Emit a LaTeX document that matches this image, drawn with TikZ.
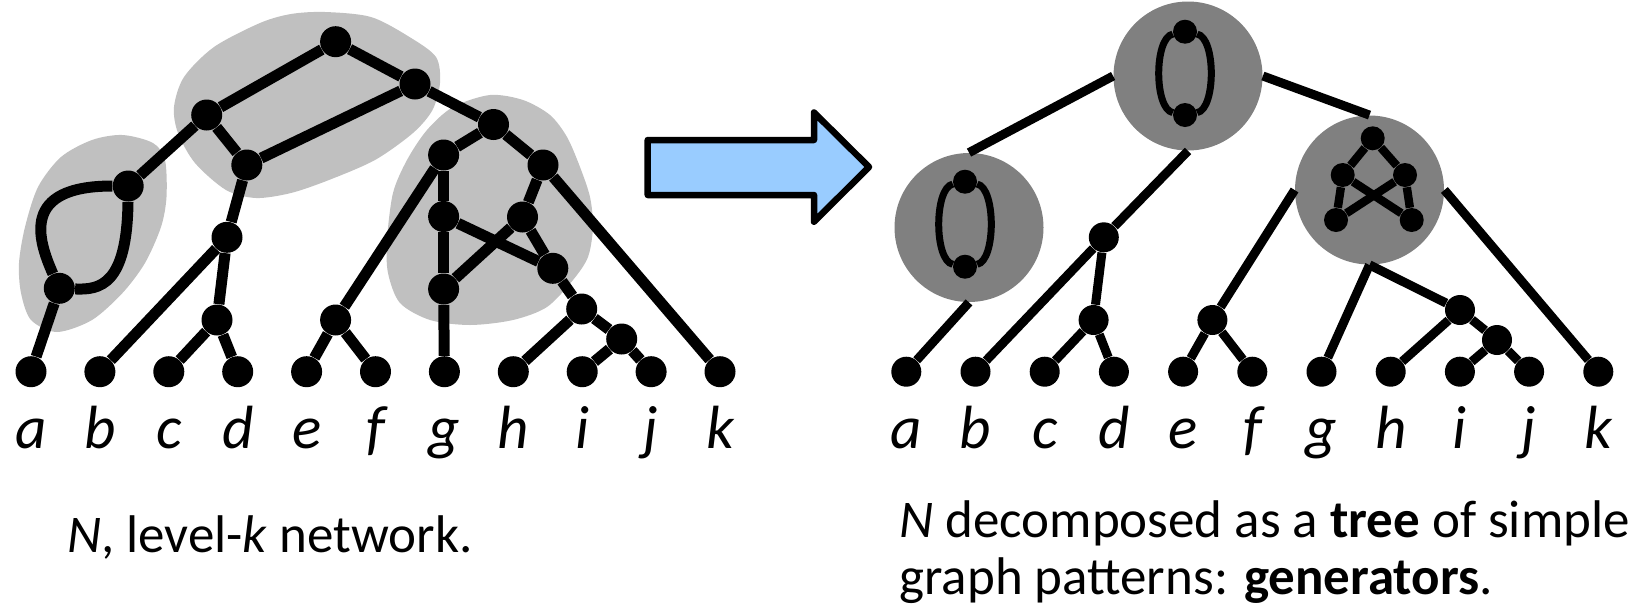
\documentclass[tikz,border=0pt]{standalone}
\usepackage{fontspec}
\setmainfont{Carlito}
\definecolor{blobgray}{HTML}{C0C0C0}
\definecolor{gengray}{HTML}{808080}
\definecolor{arrowblue}{HTML}{99CCFF}
\begin{document}
\begin{tikzpicture}[x=0.5pt,y=-0.5pt]
    \tikzset{vl/.style={circle,fill=black,inner sep=0pt,minimum size=15.5pt},
        vr/.style={circle,fill=black,inner sep=0pt,minimum size=15pt},
        vg/.style={circle,fill=black,inner sep=0pt,minimum size=12pt},
        gen/.style={circle,fill=gengray,inner sep=0pt,minimum size=74.5pt},
        el/.style={line width=5.5pt},
        er/.style={line width=4.5pt},
        eg/.style={line width=4.2pt},
        eo/.style={line width=3.5pt},
        lab/.style={anchor=base,inner sep=0pt,font=\fontsize{30.5pt}{36pt}\selectfont\itshape},
        captxt/.style={anchor=base west,inner sep=0pt,align=left,font=\fontsize{26.5pt}{28.5pt}\selectfont}}
    \useasboundingbox(0,0)rectangle(1639,606);
    % grey parts of N
    \fill[blobgray]plot[smooth cycle]coordinates{(122.5,135)(153,143)(165,160)(166.5,197)(161,227)(145,263)(122.5,293)(92,320)(57,332)(31,320)(21,293)(19,263)(25,227)(38,187)(61,157)(92,140)};
    \fill[blobgray]plot[smooth cycle]coordinates{(325,12)(371,17)(409.5,37)(436,57)(440,83)(432.5,110)(413,133)(375,160)(329,180)(291,193)(256,198)(226,190)(195,163)(178,133)(174,107)(184,77)(214,47)(260,23)(291,14)};
    \fill[blobgray]plot[smooth cycle]coordinates{(490,95)(523,100)(550,115)(567,137)(580,167)(590,197)(593,227)(588,257)(573,280)(547,307)(513,320)(470,325)(430,320)(400,303)(388,273)(387,240)(393,193)(407,160)(427,130)(453,107)};
    \path(1188,76)node[gen](Ga){}(969,227.5)node[gen](Gb){}(1369.5,190)node[gen](Gc){};
    % network N
    \path(335.6,41.7)node[vl](rt){}(415,84)node[vl](r2){}(206.7,115)node[vl](l1){}(246.8,165)node[vl](l2){};
    \path(128.2,186)node[vl](lct){}(59.3,288.3)node[vl](lcb){}(227,237.3)node[vl](lm){}(217,320)node[vl](cd){}(335.6,320)node[vl](ef){};
    \path(493.5,124.5)node[vl](rct){}(443.6,155)node[vl](rcl){}(543,165)node[vl](rcr){}(443.6,216.5)node[vl](gm){}(522.5,217)node[vl](mr){};
    \path(552.8,268.3)node[vl](lr){}(443.6,289)node[vl](gb){}(581.7,309)node[vl](hij){}(621.7,339)node[vl](ij){};
    \foreach \n [count=\i from 0] in {a,...,k}
    \path(31+68.9*\i,371.7)node[vl](\n){}(31+68.9*\i,448.3)node[lab](l\n){\n};
    % tree of generators
    \path(1185,31.7)node[vg](ga1){}(1185,115)node[vg](ga2){}(965,181.7)node[vg](gb1){}(965,266.7)node[vg](gb2){};
    \path(1372.7,138.3)node[vg](gc1){}(1342.7,175)node[vg](gc2){}(1405,175)node[vg](gc3){}(1336,220)node[vg](gc4){}(1411.7,220)node[vg](gc5){};
    \path(1103.8,237.3)node[vr](B){}(1093.6,320)node[vr](CD){}(1212.4,320)node[vr](EF){}(1460,310)node[vr](HIJ){}(1497,340)node[vr](IJ){};
    \foreach \n [count=\i from 0] in {a,...,k}
    \path(906.3+69.2*\i,371.7)node[vr](\n2){}(906.3+69.2*\i,448.3)node[lab](l\n2){\n};
    \foreach \x/\y in {rt/l1,rt/r2,l1/lct,l1/l2,r2/l2,r2/rct,lcb/a,l2/lm,lm/b,lm/cd,cd/c,cd/d,
        rct/rcl,rct/rcr,rcl/ef,ef/e,ef/f,rcl/gm,gm/gb,gb/g,gm/lr,rcr/mr,mr/gb,mr/lr,
        lr/hij,rcr/k,hij/h,hij/ij,ij/i,ij/j}
    \draw[el](\x)--(\y);
    \draw[el](lct)..controls(20,186)and(38,240)..(lcb);
    \draw[el](lct)..controls(127,285)and(100,290)..(lcb);
    \foreach \x/\y in {Ga.west/Gb.north,Ga.east/Gc.north,Ga.south/B,Gb.south/a2,B/b2,B/CD,CD/c2,CD/d2,
        Gc.west/EF,EF/e2,EF/f2,Gc.south/g2,Gc.south/HIJ,Gc.east/k2,HIJ/h2,HIJ/IJ,IJ/i2,IJ/j2}
    \draw[er](\x)--(\y);
    \foreach \x/\y in {gc1/gc2,gc1/gc3,gc2/gc4,gc3/gc5,gc2/gc5,gc3/gc4}
    \draw[eg](\x)--(\y);
    \foreach \x/\y in {ga1/ga2,gb1/gb2}{
        \draw[eo](\x)..controls+(-31,6)and+(-31,-6)..(\y);
        \draw[eo](\x)..controls+(31,6)and+(31,-6)..(\y);}
    % arrow
    \draw[line width=3.25pt,line join=round,fill=arrowblue](647.7,140)--(814,140)--(814,112.5)--(869,167)--(814,221.7)--(814,195)--(647.7,195)--cycle;
    \node[captxt](capl)at(66.7,552.7){\textit{N}, level-\textit{k} network.};
    \node[captxt](capr)at(899,594){\textit{N} decomposed as a \textbf{tree} of simple\\graph patterns: \textbf{generators}.};
\end{tikzpicture}
\end{document}
